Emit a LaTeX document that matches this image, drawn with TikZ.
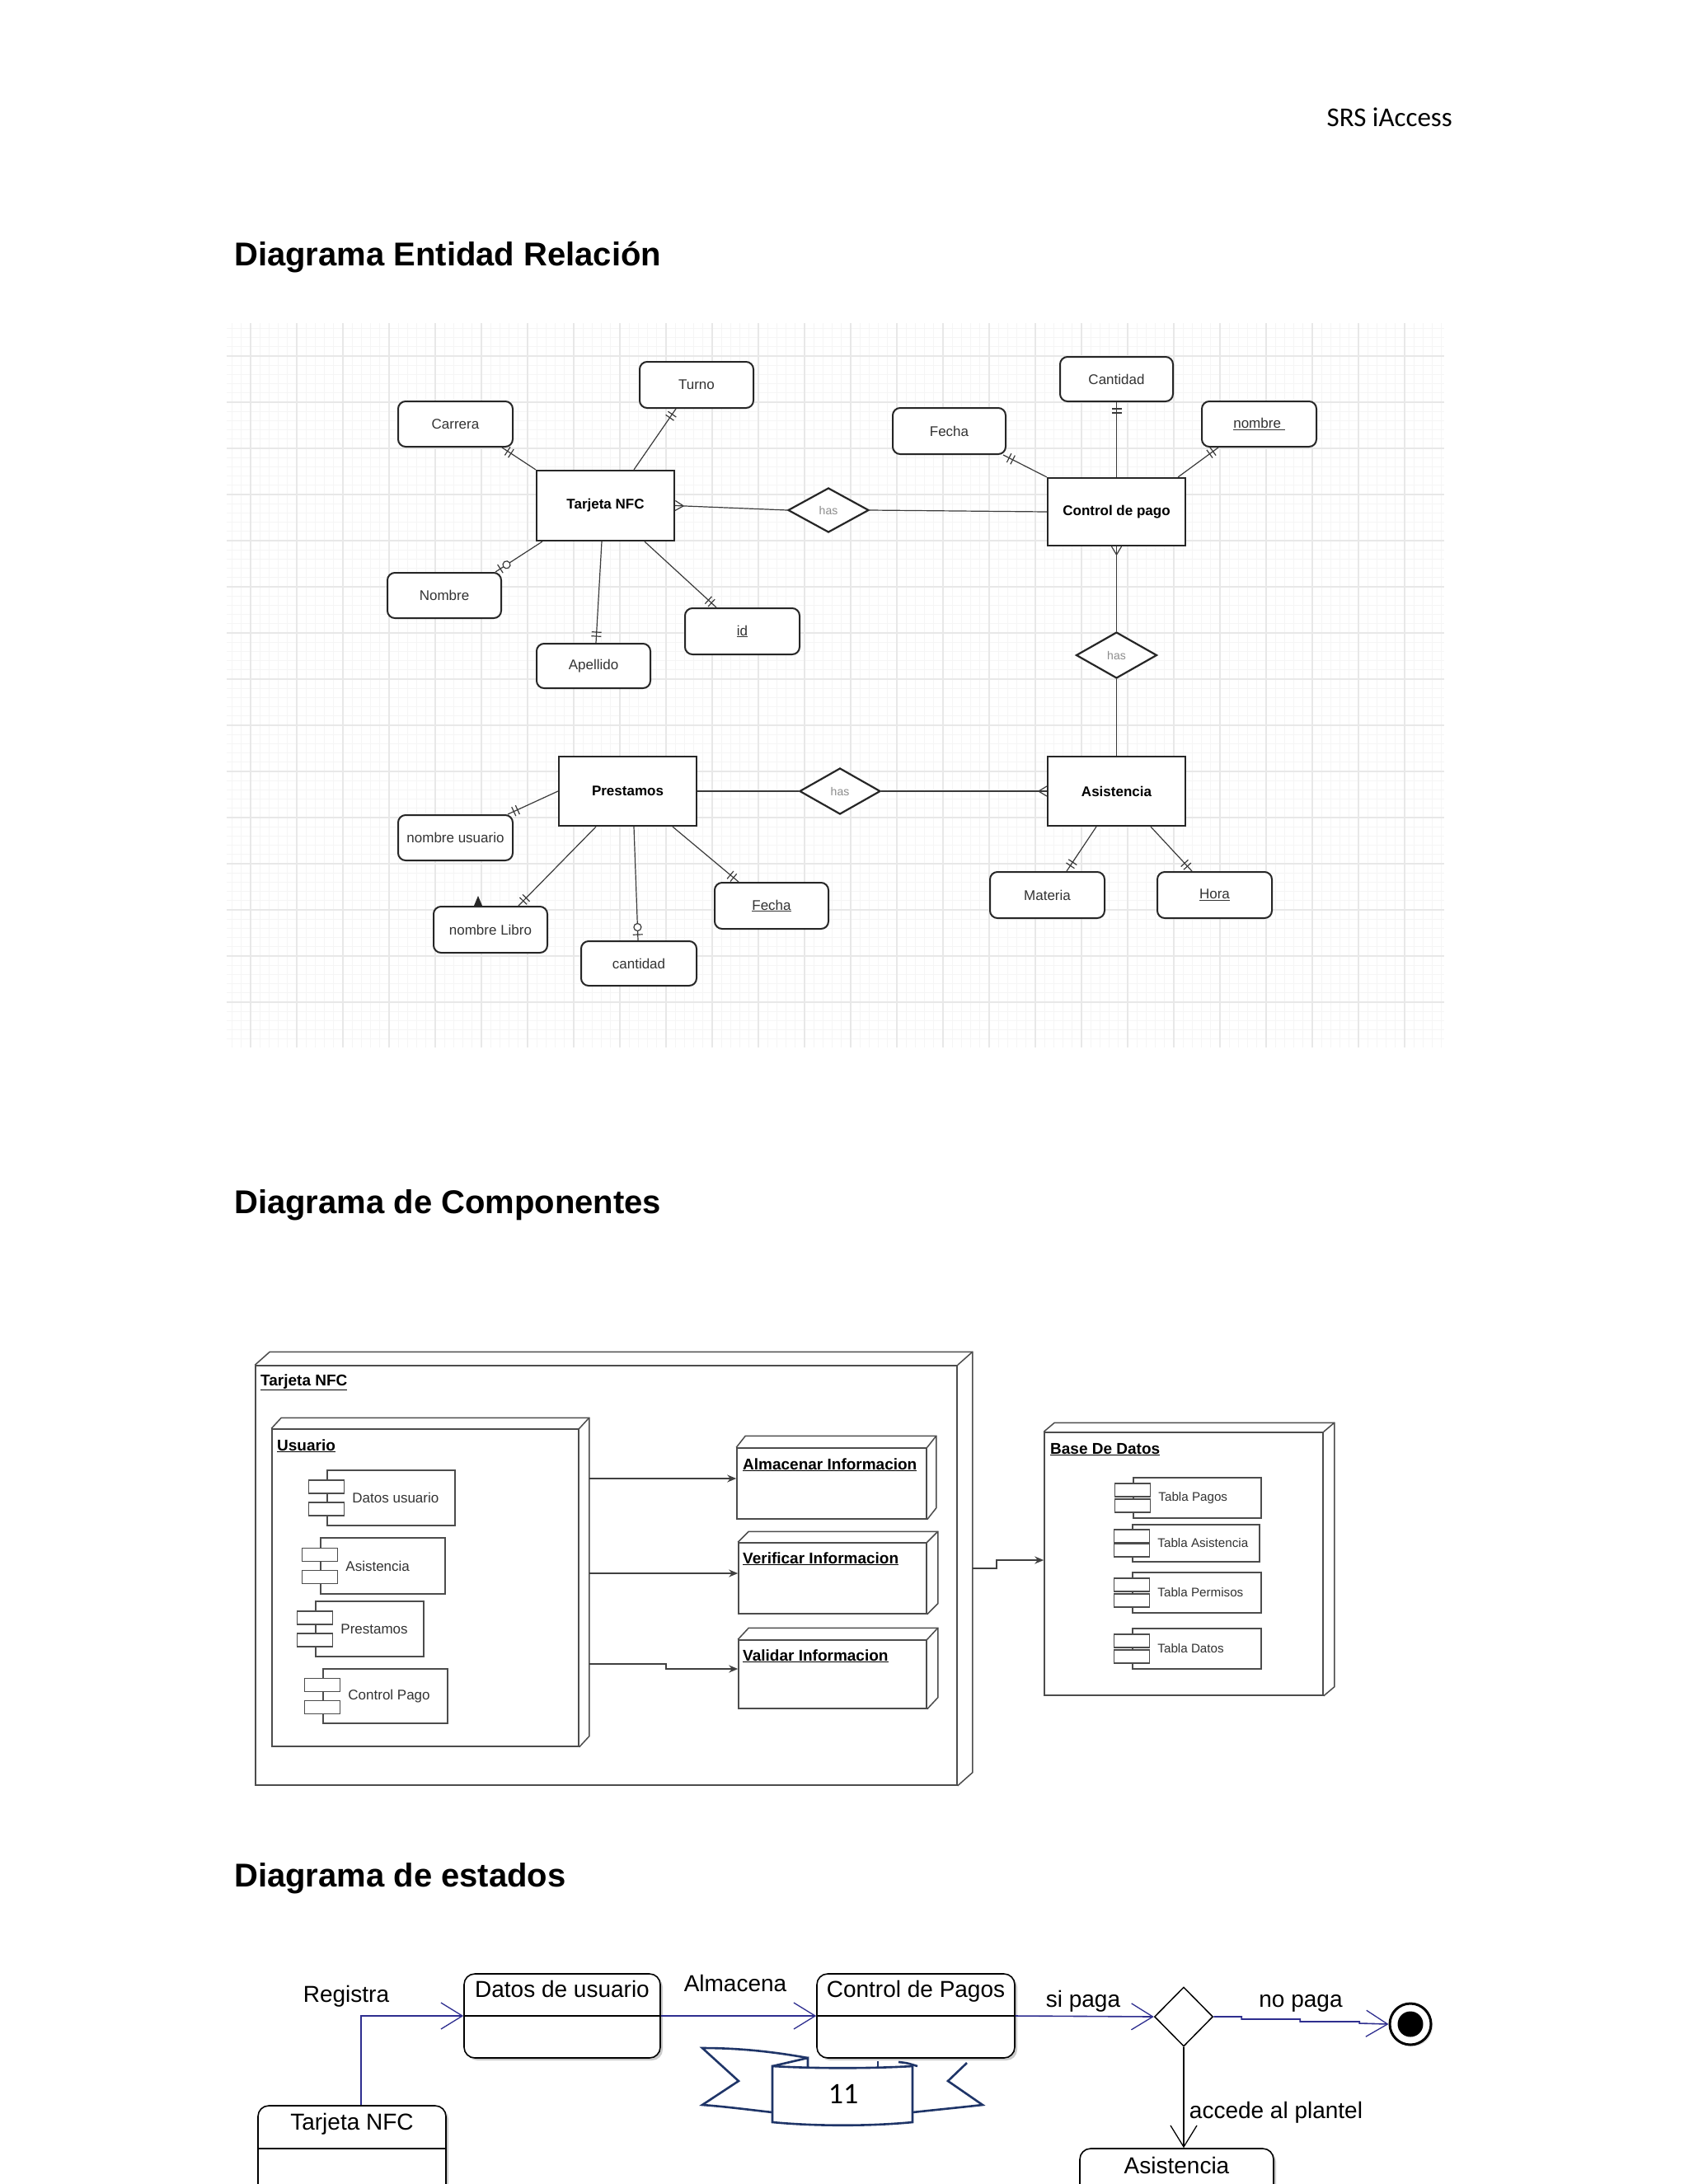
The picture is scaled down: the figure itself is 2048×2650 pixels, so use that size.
\documentclass[tikz,border=0pt]{standalone}
\usepackage{fontspec}
\setmainfont{Liberation Sans}
\newfontfamily\calfont{Carlito}
\usetikzlibrary{shapes.geometric,arrows.meta,decorations.markings,calc,shadows}
\definecolor{erline}{HTML}{3A3A3A}
\definecolor{stblue}{HTML}{2E2E8F}
\definecolor{navyb}{HTML}{1F3568}
\tikzset{
  erc/.style={draw=erline, line width=1.2pt},
  oneone/.style={postaction={decorate,decoration={markings,
    mark=at position -8pt with {\draw[erc] (0pt,-6pt) -- (0pt,6pt);},
    mark=at position -13pt with {\draw[erc] (0pt,-6pt) -- (0pt,6pt);}}}},
  zeroone/.style={postaction={decorate,decoration={markings,
    mark=at position -7pt with {\draw[erc] (0pt,-6pt) -- (0pt,6pt);},
    mark=at position -16pt with {\draw[erc,fill=white] (0pt,0pt) circle (4.5pt);}}}},
  crowend/.style={postaction={decorate,decoration={markings,
    mark=at position 1 with {\draw[erc] (-10pt,0pt) -- (0pt,6pt); \draw[erc] (-10pt,0pt) -- (0pt,-6pt);}}}},
}
\newcommand{\umlcomp}[7]{%
  \node[compbox, minimum width=#4pt, minimum height=#5pt] (#1) at (#2,#3) {};
  \node[compsm] (#1-a) at ([yshift=#6pt]#1.west) {};
  \node[compsm] (#1-b) at ([yshift=-#6pt]#1.west) {};
  \node[comptext, anchor=west] (#1-t) at ([xshift=31pt]#1.west) {#7};
}
\newcommand{\threed}[3]{%
  \draw[compline] (#1.north west) -- ([shift={(#2pt,#3pt)}]#1.north west) -- ([shift={(#2pt,#3pt)}]#1.north east) -- ([shift={(#2pt,#3pt)}]#1.south east) -- (#1.south east);
  \draw[compline] (#1.north east) -- ([shift={(#2pt,#3pt)}]#1.north east);
}
\begin{document}
\begin{tikzpicture}[x=1pt,y=-1pt,
  every node/.style={inner sep=0pt},
  gridminor/.style={draw=black!4, line width=0.8pt},
  gridmajor/.style={draw=black!9, line width=1.2pt},
  attr/.style={draw=black!85, line width=2pt, rounded corners=9pt, fill=white, font=\fontsize{17}{20}\selectfont, text=black!80},
  ent/.style={draw=black!85, line width=2.2pt, fill=white, font=\bfseries\fontsize{17}{20}\selectfont},
  rel/.style={diamond, draw=black!85, line width=2.2pt, fill=white, font=\fontsize{14}{16}\selectfont, text=black!45},
  title/.style={font=\bfseries\fontsize{40}{46}\selectfont, anchor=base west},
  compline/.style={draw=black!70, line width=1.5pt},
  compbox/.style={draw=black!70, line width=1.5pt, fill=white},
  compsm/.style={draw=black!70, line width=1.3pt, fill=white, minimum width=43pt, minimum height=16pt},
  comptext/.style={font=\fontsize{17}{20}\selectfont, text=black!80},
  complabel/.style={font=\bfseries\fontsize{19}{22}\selectfont, anchor=base west},
  comparr/.style={draw=black!75, line width=1.6pt, -{Stealth[length=11pt,width=9pt]}},
  state/.style={draw=black, line width=1.6pt, rounded corners=13pt, fill=white,
     drop shadow={shadow xshift=3pt, shadow yshift=-3pt, fill=black!40}},
  sttext/.style={font=\fontsize{28}{32}\selectfont, anchor=base},
  stdiv/.style={draw=black, line width=1.6pt},
  starr/.style={draw=stblue, line width=1.6pt, -{Straight Barb[length=26pt,width=32pt,line width=1.3pt]}},
  stblk/.style={draw=black, line width=1.6pt, -{Straight Barb[length=26pt,width=32pt,line width=1.3pt]}},
  dec/.style={diamond, draw=black, line width=1.5pt, fill=white, minimum width=71pt, minimum height=72pt},
  banner/.style={draw=navyb, line width=2.6pt, line join=miter},
]
\useasboundingbox (0,0) rectangle (2048,2650);
\clip (0,0) rectangle (2048,2650);
\fill[white] (0,0) rectangle (2048,2650);

% ---------- header and titles ----------
\node[font=\calfont\fontsize{33}{38}\selectfont, anchor=base east] (hdr) at (1762,153) {SRS iAccess};
\node[title] (t1) at (284,322) {Diagrama Entidad Relación};
\node[title] (t2) at (284,1472) {Diagrama de Componentes};
\node[title] (t3) at (284,2289) {Diagrama de estados};

% ---------- ER grid ----------
\begin{scope}
\clip (275,392) rectangle (1752,1271);
\foreach \i in {0,...,131} \draw[gridminor] ({281.6+11.2*\i},392) -- ({281.6+11.2*\i},1271);
\foreach \j in {0,...,77} \draw[gridminor] (275,{398.4+11.2*\j}) -- (1752,{398.4+11.2*\j});
\foreach \i in {0,...,25} \draw[gridmajor] ({304+56*\i},392) -- ({304+56*\i},1271);
\foreach \j in {0,...,14} \draw[gridmajor] (275,{432+56*\j}) -- (1752,{432+56*\j});
\end{scope}

% ---------- ER nodes ----------
\node[attr, minimum width=138pt, minimum height=56pt] (turno) at (845,467) {Turno};
\node[attr, minimum width=139pt, minimum height=55pt] (carrera) at (552.5,514.5) {Carrera};
\node[ent, minimum width=167pt, minimum height=85pt] (tnfc) at (734.5,613.5) {Tarjeta NFC};
\node[rel, minimum width=98pt, minimum height=54pt] (has1) at (1005,619) {has};
\node[ent, minimum width=167pt, minimum height=82pt] (cp) at (1354.5,621) {Control de pago};
\node[attr, minimum width=137pt, minimum height=54pt] (cantidad) at (1354.5,460) {Cantidad};
\node[attr, minimum width=137pt, minimum height=56pt] (fecha1) at (1151.5,523) {Fecha};
\node[attr, minimum width=139pt, minimum height=55pt] (nombre2) at (1527.5,514.5) {\underline{nombre }};
\node[attr, minimum width=138pt, minimum height=55pt] (nombre1) at (539,722.5) {Nombre};
\node[attr, minimum width=139pt, minimum height=56pt] (id) at (900.5,766) {\underline{id}};
\node[attr, minimum width=138pt, minimum height=54pt] (apellido) at (720,808) {Apellido};
\node[rel, minimum width=98pt, minimum height=56pt] (has2) at (1354.5,795) {has};
\node[ent, minimum width=167pt, minimum height=84pt] (prest) at (761.5,960) {Prestamos};
\node[rel, minimum width=98pt, minimum height=56pt] (has3) at (1019,960) {has};
\node[ent, minimum width=167pt, minimum height=84pt] (asis) at (1354.5,960) {Asistencia};
\node[attr, minimum width=139pt, minimum height=55pt] (nomusu) at (552.5,1016.5) {nombre usuario};
\node[attr, minimum width=138pt, minimum height=56pt] (nomlib) at (595,1128) {nombre Libro};
\node[attr, minimum width=140pt, minimum height=54pt] (cant2) at (775,1169) {cantidad};
\node[attr, minimum width=138pt, minimum height=56pt] (fecha2) at (936,1099) {\underline{Fecha}};
\node[attr, minimum width=139pt, minimum height=56pt] (materia) at (1270.5,1086) {Materia};
\node[attr, minimum width=139pt, minimum height=56pt] (hora) at (1473.5,1086) {\underline{Hora}};
\fill[black!85] ([xshift=50pt]nomlib.north west) -- ++(10,0) -- ++(-5,-12) -- cycle;

% ---------- ER connectors ----------
\draw[erc, oneone] (tnfc.north west) -- ([xshift=-14pt]carrera.south east);
\draw[erc, oneone] ([xshift=34.5pt]tnfc.north) -- ([xshift=-25pt]turno.south);
\draw[erc, zeroone] ([xshift=8pt]tnfc.south west) -- ([xshift=-8pt]nombre1.north east);
\draw[erc, oneone] ([xshift=-4.5pt]tnfc.south) -- ([xshift=3pt]apellido.north);
\draw[erc, oneone] ([xshift=47.5pt]tnfc.south) -- ([xshift=-31.5pt]id.north);
\draw[erc, crowend] (has1.west) -- (tnfc.east);
\draw[erc] (has1.east) -- (cp.west);
\draw[erc, oneone] (cp.north west) -- ([xshift=-4pt]fecha1.south east);
\draw[erc, oneone] (cp.north) -- (cantidad.south);
\draw[erc, oneone] ([xshift=-10pt]cp.north east) -- ([xshift=-49.5pt]nombre2.south);
\draw[erc, crowend] (has2.north) -- (cp.south);
\draw[erc] (has2.south) -- (asis.north);
\draw[erc] (prest.east) -- (has3.west);
\draw[erc, crowend] (has3.east) -- (asis.west);
\draw[erc, oneone] (prest.west) -- ([xshift=-7pt]nomusu.north east);
\draw[erc, oneone] ([xshift=-38.5pt]prest.south) -- ([xshift=34pt]nomlib.north);
\draw[erc, zeroone] ([xshift=7.5pt]prest.south) -- ([xshift=-1pt]cant2.north);
\draw[erc, oneone] ([xshift=54.5pt]prest.south) -- ([xshift=-40pt]fecha2.north);
\draw[erc, oneone] ([xshift=-24.5pt]asis.south) -- ([xshift=23.5pt]materia.north);
\draw[erc, oneone] ([xshift=41.5pt]asis.south) -- ([xshift=-27.5pt]hora.north);

% ---------- Component diagram ----------
\node[compbox, minimum width=851pt, minimum height=509pt] (tnfcn) at (735.5,1911.5) {};
\threed{tnfcn}{18}{16}
\node[complabel] (tnfcn-l) at (316,1681) {\underline{Tarjeta NFC}};

\node[compbox, minimum width=372pt, minimum height=385pt] (usu) at (516,1926.5) {};
\threed{usu}{12}{13}
\node[complabel] (usu-l) at (336,1760) {\underline{Usuario}};

\umlcomp{cdatos}{474.5}{1817.5}{155}{67}{13.5}{Datos usuario}
\umlcomp{casis}{464.5}{1900}{151}{68}{13.5}{Asistencia}
\umlcomp{cprest}{448.5}{1976.5}{131}{67}{13.5}{Prestamos}
\umlcomp{cctrl}{467.5}{2058}{151}{66}{13.5}{Control Pago}

\node[compbox, minimum width=230pt, minimum height=86pt] (alm) at (1009,1800) {};
\threed{alm}{11}{14}
\node[complabel] (alm-l) at (901,1783) {\underline{Almacenar Informacion}};
\node[compbox, minimum width=228pt, minimum height=86pt] (ver) at (1010,1915) {};
\threed{ver}{13}{13}
\node[complabel] (ver-l) at (901,1897) {\underline{Verificar Informacion}};
\node[compbox, minimum width=228pt, minimum height=83pt] (val) at (1010,2031.5) {};
\threed{val}{13}{14}
\node[complabel] (val-l) at (901,2015) {\underline{Validar Informacion}};

\node[compbox, minimum width=338pt, minimum height=319pt] (bdd) at (1436,1897.5) {};
\threed{bdd}{13}{11}
\node[complabel] (bdd-l) at (1274,1764) {\underline{Base De Datos}};
\begin{scope}[comptext/.append style={font=\fontsize{15.2}{18}\selectfont}]
\umlcomp{tpagos}{1452.5}{1817.5}{155}{49}{9.5}{Tabla Pagos}
\umlcomp{tasis}{1451}{1872.5}{154}{45}{8.5}{Tabla Asistencia}
\umlcomp{tperm}{1452}{1932.5}{156}{49}{9.5}{Tabla Permisos}
\umlcomp{tdatos}{1452}{2000.5}{156}{49}{9.5}{Tabla Datos}
\end{scope}

\draw[comparr] ($(usu.east |- alm.west)+(12,-6)$) -- ([yshift=6pt]alm.west);
\draw[comparr] ($(usu.east |- ver.west)+(12,-6)$) -- ([yshift=6pt]ver.west);
\draw[comparr] ($(usu.east |- val.west)+(12,-12.5)$) -- ++(93,0) -- ++(0,6) -- ([yshift=6.5pt]val.west);
\draw[comparr] ($(tnfcn.east)+(18,-8.5)$) -- ++(29,0) -- ++(0,-10) -- ([yshift=4.5pt]bdd.west);

% ---------- page number banner ----------
\draw[banner] (980,2497) .. controls (930,2488) and (890,2485) .. (852,2485) -- (896,2525) -- (852,2554) .. controls (880,2556) and (910,2560) .. (937,2563);
\draw[banner] (1173,2503) -- (1150,2525) -- (1192,2554) .. controls (1165,2557) and (1135,2560) .. (1107,2563);
\draw[banner, fill=white] (937,2507) .. controls (990,2510) and (1055,2510) .. (1107,2507) -- (1107,2575) .. controls (1055,2580) and (990,2580) .. (937,2575) -- cycle;
\draw[banner] (937,2507) -- (980,2497) -- (980,2508);
\draw[banner] (1065,2501) -- (1065,2508);
\draw[banner] (1090,2502) .. controls (1100,2503) .. (1113,2507);
\node[font=\calfont\fontsize{36}{40}\selectfont] (pnum) at (1023,2541) {11};

% ---------- State diagram ----------
\node[state, minimum width=238pt, minimum height=102pt] (sdatos) at (682,2446) {};
\draw[stdiv] ([yshift=-52pt]sdatos.north west) -- ([yshift=-52pt]sdatos.north east);
\node[sttext] (sdatos-t) at ([yshift=-29pt]sdatos.north) {Datos de usuario};

\node[state, minimum width=240pt, minimum height=102pt] (sctrl) at (1111,2446) {};
\draw[stdiv] ([yshift=-52pt]sctrl.north west) -- ([yshift=-52pt]sctrl.north east);
\node[sttext] (sctrl-t) at ([yshift=-29pt]sctrl.north) {Control de Pagos};

\node[state, minimum width=228pt, minimum height=120pt] (stnfc) at (427,2615) {};
\draw[stdiv] ([yshift=-53pt]stnfc.north west) -- ([yshift=-53pt]stnfc.north east);
\node[sttext] (stnfc-t) at ([yshift=-30pt]stnfc.north) {Tarjeta NFC};

\node[state, minimum width=235pt, minimum height=120pt] (sasis) at (1427.5,2667) {};
\node[sttext] (sasis-t) at ([yshift=-31pt]sasis.north) {Asistencia};

\node[dec] (dec) at (1436,2447) {};
\node[circle, draw=black, line width=3pt, fill=white, minimum size=50pt,
      drop shadow={shadow xshift=2pt, shadow yshift=-2pt, fill=black!30}] (fin) at (1711,2456) {};
\node[circle, fill=black, minimum size=31pt] (finin) at (fin.center) {};

\draw[starr] ([xshift=11pt]stnfc.north) |- (sdatos.west);
\draw[starr] (sdatos.east) -- (sctrl.west);
\draw[starr] (sctrl.east) -- (dec.west);
\draw[starr] (dec.east) -- ++(34,0) -- ++(0,3) -- ++(71,0) -- ++(0,3) -- ++(72,0) -- ++(0,2) -- (fin.west);
\draw[stblk] (dec.south) -- (dec.south |- sasis.north);

\node[sttext] (lreg) at (420,2429) {Registra};
\node[sttext] (lalm) at (892,2416) {Almacena};
\node[sttext] (lsi) at (1314,2435) {si paga};
\node[sttext] (lno) at (1578,2435) {no paga};
\node[sttext] (lacc) at (1548,2570) {accede al plantel};
\end{tikzpicture}
\end{document}
